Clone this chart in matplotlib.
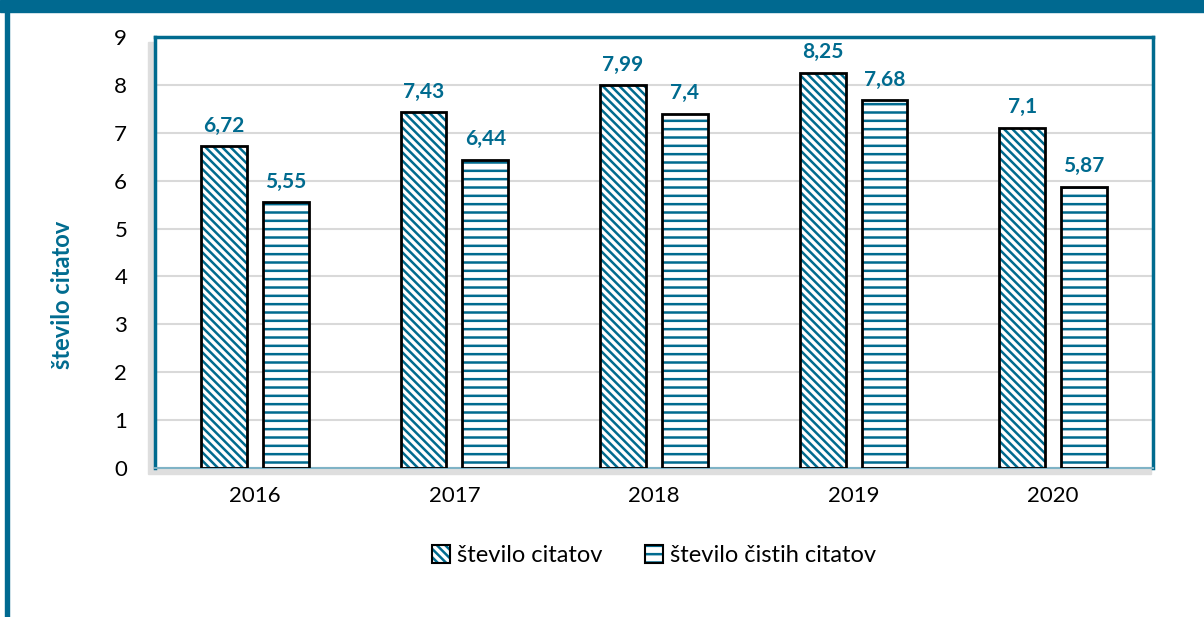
import matplotlib.pyplot as plt
from matplotlib.patches import Rectangle
from matplotlib.legend_handler import HandlerTuple
import numpy as np

years = ['2016', '2017', '2018', '2019', '2020']
citati = [6.72, 7.43, 7.99, 8.25, 7.1]
cisti_citati = [5.55, 6.44, 7.4, 7.68, 5.87]
labels_citati = ['6,72', '7,43', '7,99', '8,25', '7,1']
labels_cisti = ['5,55', '6,44', '7,4', '7,68', '5,87']

teal = '#006b8f'
diag = '\\' * 4
plt.rcParams['font.family'] = ['Lato', 'DejaVu Sans']
plt.rcParams['hatch.linewidth'] = 1.8

fig = plt.figure(figsize=(12.04, 6.17), dpi=100)
ax = fig.add_axes([155 / 1204, 1 - 468 / 617, (1153 - 155) / 1204, (468 - 37) / 617])
ax.set_zorder(2)

# frame bands of the slide
fig.patches.append(Rectangle((0, 1 - 12 / 617), 1, 12 / 617, transform=fig.transFigure,
                             color='#006990', zorder=0))
fig.patches.append(Rectangle((5 / 1204, 0), 4 / 1204, 1, transform=fig.transFigure,
                             color='#006990', zorder=0))
# soft shadow behind the plot area
fig.patches.append(Rectangle((148 / 1204, 1 - 474 / 617), (1153 - 150) / 1204, (474 - 42) / 617,
                             transform=fig.transFigure, color='#dedede', zorder=1))

x = np.arange(len(years))
w = 0.23
off = 0.155

ax.bar(x - off, citati, w, color='white', edgecolor=teal, hatch=diag, linewidth=0, zorder=2)
ax.bar(x - off, citati, w, fill=False, edgecolor='black', linewidth=2, zorder=3)
ax.bar(x + off, cisti_citati, w, color='white', edgecolor=teal, hatch='--', linewidth=0, zorder=2)
ax.bar(x + off, cisti_citati, w, fill=False, edgecolor='black', linewidth=2, zorder=3)

for xi, v, t in zip(x, citati, labels_citati):
    ax.text(xi - off, v + 0.22, t, ha='center', va='bottom', color=teal, fontsize=15, fontweight='bold')
for xi, v, t in zip(x, cisti_citati, labels_cisti):
    ax.text(xi + off, v + 0.22, t, ha='center', va='bottom', color=teal, fontsize=15, fontweight='bold')

ax.set_ylim(0, 9)
ax.set_xlim(-0.5, 4.5)
ax.set_yticks(range(10))
ax.set_xticks(x)
ax.set_xticklabels(years)
ax.tick_params(axis='both', length=0, labelsize=16)
ax.tick_params(axis='y', pad=20)
ax.tick_params(axis='x', pad=13)
ax.yaxis.grid(True, color='#d9d9d9', linewidth=1.5, zorder=0)
ax.set_axisbelow(True)
for s in ax.spines.values():
    s.set_color(teal)
    s.set_linewidth(2.5)
ax.spines['bottom'].set_color('#7fb3c6')
ax.spines['bottom'].set_linewidth(1.5)

fig.text(62 / 1204, 1 - 295 / 617, 'število citatov', rotation=90, ha='center', va='center',
         color=teal, fontsize=17, fontweight='bold')

h1 = (Rectangle((0, 0), 1, 1, facecolor='white', edgecolor=teal, hatch=diag, linewidth=0),
      Rectangle((0, 0), 1, 1, fill=False, edgecolor='black', linewidth=1.5))
h2 = (Rectangle((0, 0), 1, 1, facecolor='white', edgecolor=teal, hatch='--', linewidth=0),
      Rectangle((0, 0), 1, 1, fill=False, edgecolor='black', linewidth=1.5))
ax.legend([h1, h2], ['število citatov', 'število čistih citatov'], loc='upper center',
          bbox_to_anchor=(0.5, -0.13), ncol=2, frameon=False, fontsize=17,
          handler_map={tuple: HandlerTuple(ndivide=1, pad=0)},
          handlelength=0.75, handleheight=0.75, handletextpad=0.3, columnspacing=1.8)

fig.savefig('out.png', dpi=100)
